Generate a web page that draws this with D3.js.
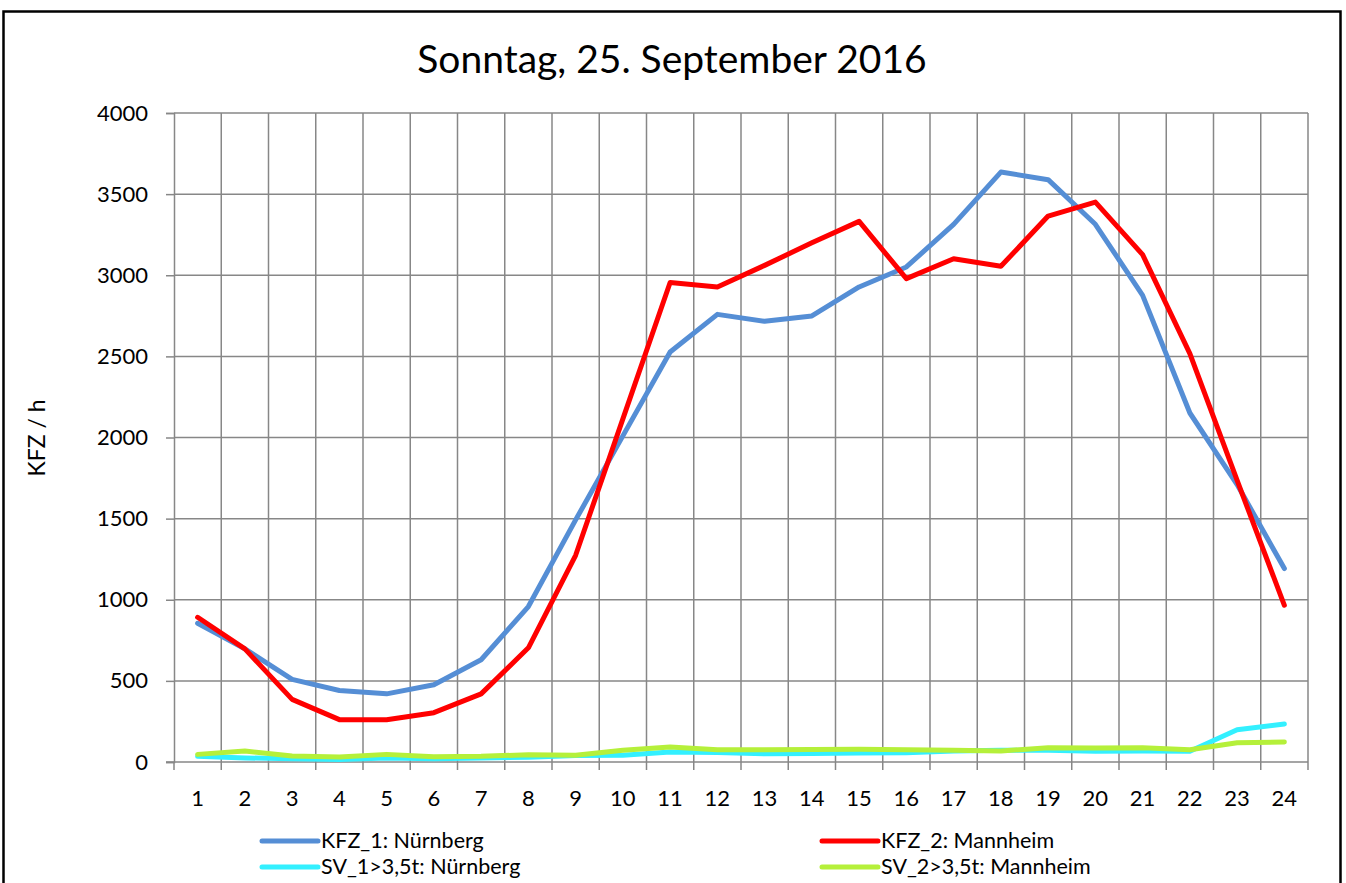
<!DOCTYPE html>
<html>
<head>
<meta charset="utf-8">
<script src="https://cdn.jsdelivr.net/npm/d3@7/dist/d3.min.js"></script>
<style>
  html, body { margin: 0; padding: 0; background: #fff; }
  svg { display: block; }
  text { font-family: Lato, "Open Sans", sans-serif; fill: #000; }
</style>
</head>
<body>
<svg id="chart" width="1346" height="883"></svg>
<script>
// Hourly traffic counts, Sunday 25 September 2016
const hours = ["1","2","3","4","5","6","7","8","9","10","11","12","13","14","15","16","17","18","19","20","21","22","23","24"];
const kfz1Nuernberg = [855, 697, 509, 441, 420, 476, 630, 958, 1492, 2010, 2527, 2759, 2716, 2749, 2928, 3051, 3314, 3636, 3589, 3314, 2876, 2151, 1710, 1192];
const kfz2Mannheim  = [892, 697, 386, 261, 261, 304, 420, 704, 1274, 2115, 2955, 2928, 3061, 3200, 3332, 2979, 3102, 3055, 3365, 3451, 3127, 2517, 1735, 966];
const sv1Nuernberg  = [35, 25, 20, 15, 25, 20, 25, 30, 40, 41, 62, 58, 51, 53, 55, 57, 68, 72, 72, 66, 68, 66, 199, 234];
const sv2Mannheim   = [47, 68, 37, 31, 47, 33, 35, 45, 42, 72, 92, 76, 76, 77, 79, 76, 72, 68, 88, 86, 88, 76, 119, 123];
const yTicks = [0, 500, 1000, 1500, 2000, 2500, 3000, 3500, 4000];
const seriesNames = ["KFZ_1: Nürnberg", "KFZ_2: Mannheim", "SV_1>3,5t: Nürnberg", "SV_2>3,5t: Mannheim"];
const seriesColors = ["#558ED5", "#FF0000", "#33F0FF", "#B5F03A"];
const titleText = "Sonntag, 25. September 2016";
const yLabel = "KFZ / h";

const series = [kfz1Nuernberg, kfz2Mannheim, sv1Nuernberg, sv2Mannheim].map((values, i) => ({
  name: seriesNames[i], color: seriesColors[i], values
}));

const svg = d3.select("#chart");
const plot = { left: 174, right: 1308, top: 113, bottom: 762 };

const x = d3.scaleBand().domain(hours).range([plot.left, plot.right]).paddingInner(0).paddingOuter(0);
const y = d3.scaleLinear().domain([0, 4000]).range([plot.bottom, plot.top]);
const xc = h => x(h) + x.bandwidth() / 2;

// outer frame
svg.append("rect")
  .attr("x", 3.5).attr("y", 11.5).attr("width", 1337).attr("height", 900)
  .attr("fill", "none").attr("stroke", "#000").attr("stroke-width", 2.5);

// title
svg.append("text")
  .attr("x", 672).attr("y", 73)
  .attr("text-anchor", "middle")
  .style("font-size", "39px")
  .text(titleText);

const gridColor = "#878787";

// horizontal gridlines + y axis
const yAxis = d3.axisLeft(y).tickValues(yTicks).tickSize(8).tickPadding(18).tickFormat(d3.format("d"));
const gy = svg.append("g").attr("transform", `translate(${plot.left},0)`).call(yAxis);
gy.select(".domain").attr("stroke", gridColor).attr("stroke-width", 1.5);
gy.selectAll(".tick line").attr("stroke", gridColor).attr("stroke-width", 1.5);
gy.selectAll(".tick text").style("font-size", "22px").style("font-family", "Lato, sans-serif").attr("fill", "#000");

svg.append("g").selectAll("line").data(yTicks.filter(d => d > 0)).join("line")
  .attr("x1", plot.left).attr("x2", plot.right)
  .attr("y1", d => y(d)).attr("y2", d => y(d))
  .attr("stroke", gridColor).attr("stroke-width", 1.5);

// vertical gridlines at category boundaries
const boundaries = hours.map(h => x(h)).concat([plot.right]);
svg.append("g").selectAll("line").data(boundaries.slice(1)).join("line")
  .attr("x1", d => d).attr("x2", d => d)
  .attr("y1", plot.top).attr("y2", plot.bottom)
  .attr("stroke", gridColor).attr("stroke-width", 1.5);

// x axis with ticks at category boundaries
svg.append("line")
  .attr("x1", plot.left - 8).attr("x2", plot.right)
  .attr("y1", plot.bottom).attr("y2", plot.bottom)
  .attr("stroke", gridColor).attr("stroke-width", 1.5);
svg.append("g").selectAll("line").data(boundaries).join("line")
  .attr("x1", d => d).attr("x2", d => d)
  .attr("y1", plot.bottom).attr("y2", plot.bottom + 8)
  .attr("stroke", gridColor).attr("stroke-width", 1.5);
svg.append("g").selectAll("text").data(hours).join("text")
  .attr("x", d => xc(d)).attr("y", 806)
  .attr("text-anchor", "middle")
  .style("font-size", "22px")
  .text(d => d);

// y axis title
svg.append("text")
  .attr("transform", "translate(45,438) rotate(-90)")
  .attr("text-anchor", "middle")
  .style("font-size", "23px")
  .text(yLabel);

// series lines
const line = d3.line().x((d, i) => xc(hours[i])).y(d => y(d));
svg.append("g").selectAll("path").data(series).join("path")
  .attr("d", s => line(s.values))
  .attr("fill", "none")
  .attr("stroke", s => s.color)
  .attr("stroke-width", 5)
  .attr("stroke-linejoin", "round")
  .attr("stroke-linecap", "round");

// legend (two columns, two rows)
const legendPos = [[262, 841], [822, 841], [262, 867], [822, 867]];
const lg = svg.append("g").selectAll("g").data(series).join("g")
  .attr("transform", (s, i) => `translate(${legendPos[i][0]},${legendPos[i][1]})`);
lg.append("line")
  .attr("x1", 0).attr("x2", 56).attr("y1", 0).attr("y2", 0)
  .attr("stroke", s => s.color).attr("stroke-width", 5).attr("stroke-linecap", "round");
lg.append("text")
  .attr("x", 59).attr("y", 7)
  .style("font-size", "21.5px")
  .text(s => s.name);
</script>
</body>
</html>
